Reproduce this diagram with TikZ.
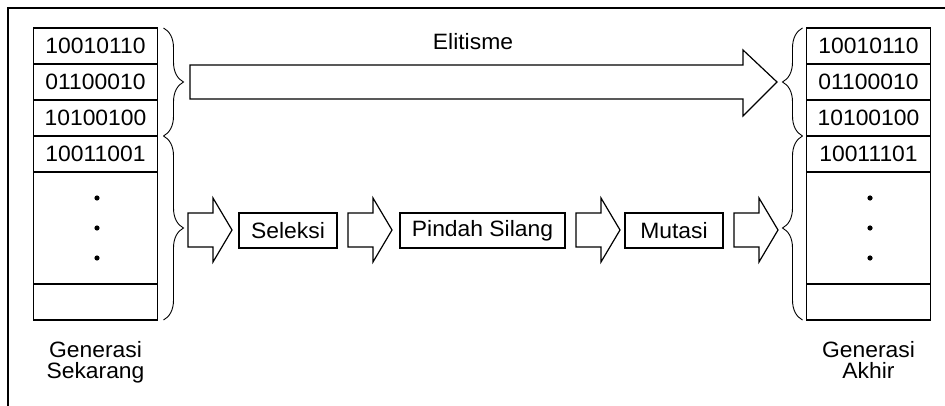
\documentclass[tikz,border=0pt]{standalone}
\usepackage{fontspec}
\setmainfont[FakeStretch=1.03]{Liberation Sans}
\usetikzlibrary{positioning}
\usetikzlibrary{decorations.pathreplacing}

\tikzset{
  every node/.style={font=\fontsize{22.2}{21.7}\selectfont},
  cell/.style={draw,line width=1.2pt,minimum width=124pt,minimum height=36pt,inner sep=0pt,outer sep=0pt},
  proc/.style={draw,line width=1.2pt,minimum height=35pt,inner sep=0pt},
  blockarrow/.style={draw,line width=1.2pt,line join=miter},
  curly/.style={decorate,decoration={brace,amplitude=20pt},line width=0.9pt},
  caption/.style={align=center,inner sep=0pt}
}

\begin{document}
\begin{tikzpicture}[x=1pt,y=-1pt]
      \useasboundingbox (0,0) rectangle (945,406);
      \draw[line width=2pt] (8,406) -- (8,8) -- (945,8);
      % generasi sekarang
      \node[cell] (l1) at (95.5,46) {10010110};
      \node[cell,below=0pt of l1] (l2) {01100010};
      \node[cell,below=0pt of l2] (l3) {10100100};
      \node[cell,below=0pt of l3] (l4) {10011001};
      \node[cell,below=0pt of l4,minimum height=112pt] (l5) {};
      \node[cell,below=0pt of l5] (l6) {};
      \node[caption,below=21pt of l6] (gl) {Generasi\\Sekarang};
      % generasi akhir
      \node[cell] (r1) at (868.5,46) {10010110};
      \node[cell,below=0pt of r1] (r2) {01100010};
      \node[cell,below=0pt of r2] (r3) {10100100};
      \node[cell,below=0pt of r3] (r4) {10011101};
      \node[cell,below=0pt of r4,minimum height=112pt] (r5) {};
      \node[cell,below=0pt of r5] (r6) {};
      \node[caption,below=21pt of r6] (gr) {Generasi\\Akhir};
      \foreach\c in {l5,r5} {
	\foreach\d in {-30,0,30} {
	  \fill ([xshift=1.5pt,yshift=\d pt]\c.center) circle (2.6pt);
	}
      }
      % kurung kurawal
      \draw[curly] ([xshift=6pt]l1.north east) -- ([xshift=6pt]l3.south east);
      \draw[curly] ([xshift=6pt]l4.north east) -- ([xshift=6pt]l6.south east);
      \draw[curly] ([xshift=-4pt]r3.south west) -- ([xshift=-4pt]r1.north west);
      \draw[curly] ([xshift=-4pt]r6.south west) -- ([xshift=-4pt]r4.north west);
      % elitisme
      \draw[blockarrow] (190,65) -- (743,65) -- (743,50) -- (777,82)
                        -- (743,116) -- (743,99) -- (190,99) -- cycle;
      \node (elit) at (473,41.5) {Elitisme};
      % proses
      \node[proc,minimum width=98pt] (sel) at (288,230.5) {Seleksi};
      \node[proc,minimum width=165pt] (pin) at (482.5,230.5) {Pindah Silang};
      \node[proc,minimum width=98pt] (mut) at (674,230.5) {Mutasi};
      \foreach\x in {188,348,576,734} {
	\draw[blockarrow] (\x,213) -- (\x+25,213) -- (\x+25,198) -- (\x+44,230)
	                  -- (\x+25,262) -- (\x+25,247) -- (\x,247) -- cycle;
      }
\end{tikzpicture}
\end{document}
